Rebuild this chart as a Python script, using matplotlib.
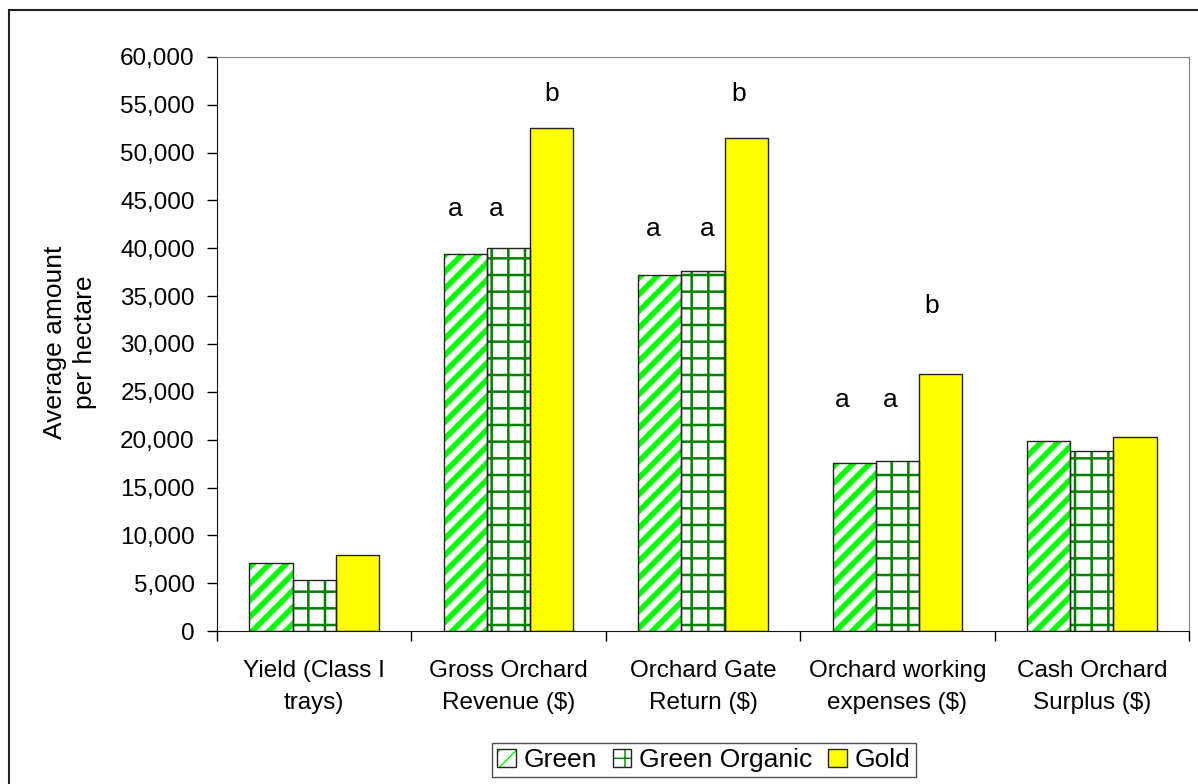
import numpy as np
import matplotlib
matplotlib.use("Agg")
import matplotlib.pyplot as plt
from matplotlib.patches import Rectangle
from matplotlib.ticker import StrMethodFormatter, FixedLocator

plt.rcParams['font.family'] = ['Liberation Sans', 'DejaVu Sans']

categories = ["Yield (Class I\ntrays)", "Gross Orchard\nRevenue ($)", "Orchard Gate\nReturn ($)",
              "Orchard working\nexpenses ($)", "Cash Orchard\nSurplus ($)"]
series_names = ["Green", "Green Organic", "Gold"]
green = [7150, 39450, 37180, 17560, 19830]
green_organic = [5300, 40030, 37630, 17770, 18810]
gold = [7990, 52620, 51570, 26830, 20320]

# significance letters: category, x offset within the group, baseline height
sig_letters = ['a', 'a', 'b', 'a', 'a', 'b', 'a', 'a', 'b']
sig_cat = [1, 1, 1, 2, 2, 2, 3, 3, 3]
sig_dx = [-0.275, -0.065, 0.223, -0.257, 0.02, 0.185, -0.285, -0.038, 0.178]
sig_y = [43350, 43350, 55360, 41260, 41260, 55360, 23410, 23410, 33210]

W, H = 1198, 784
fig = plt.figure(figsize=(W / 100, H / 100), dpi=100)
ax = fig.add_axes([217 / W, 1 - 631 / H, (1189 - 217) / W, (631 - 57) / H])

x = np.arange(len(categories))
bw = 0.222
fills = ['white', 'white', '#FFFF00']
hatches = ['//', '+', None]
hatch_cols = ['#00FF00', '#008000', '#FFFF00']
hatch_lws = [4.0, 1.8, 1.0]
handles = []
for k, vals in enumerate([green, green_organic, gold]):
    pos = x + (k - 1) * bw
    with plt.rc_context({'hatch.linewidth': hatch_lws[k]}):
        b1 = ax.bar(pos, vals, bw, color=fills[k], edgecolor=hatch_cols[k],
                    hatch=hatches[k], linewidth=0, zorder=2)
    for p in b1:
        if hasattr(p, 'set_hatch_linewidth'):
            p.set_hatch_linewidth(hatch_lws[k])
    b2 = ax.bar(pos, vals, bw, fill=False, edgecolor='#222222', linewidth=1.0, zorder=3)
    handles.append((b1[0], b2[0]))

for lab, c, dx, yy in zip(sig_letters, sig_cat, sig_dx, sig_y):
    ax.text(c + dx, yy, lab, ha='center', va='baseline', fontsize=19, color='black')

ax.set_xlim(-0.5, len(categories) - 0.5)
ax.set_ylim(0, 60000)
ax.set_yticks(np.arange(0, 60001, 5000))
ax.yaxis.set_major_formatter(StrMethodFormatter('{x:,.0f}'))
ax.set_xticks(x)
ax.set_xticklabels(categories, fontsize=17.5, linespacing=1.55)
ax.xaxis.set_minor_locator(FixedLocator(np.arange(-0.5, len(categories), 1.0)))
ax.tick_params(axis='x', which='major', length=0, pad=21)
ax.tick_params(axis='x', which='minor', length=7, width=1, direction='out')
ax.tick_params(axis='y', length=7, width=1, direction='out', pad=9, labelsize=17.5)

for s in ['top', 'right']:
    ax.spines[s].set_color('#808080')
for s in ['left', 'bottom']:
    ax.spines[s].set_color('#111111')

ax.set_ylabel("Average amount\nper hectare", fontsize=19, linespacing=1.3, ha='center')
ax.yaxis.set_label_coords((97 - 217) / (1189 - 217), (631 - 342) / (631 - 57))

leg = fig.legend(handles, series_names, loc='center', bbox_to_anchor=(704 / W, 1 - 760 / H),
                 ncol=3, fontsize=19, frameon=True, fancybox=False, edgecolor='#222222',
                 handlelength=0.7, handleheight=0.7, handletextpad=0.3, columnspacing=0.6,
                 borderpad=0.2, borderaxespad=0)
leg.get_frame().set_linewidth(1.0)

# outer chart border (left and top edges visible)
fig.patches.append(Rectangle((9 / W, -0.1), 1.2, 1 - 10 / H + 0.1, transform=fig.transFigure,
                             fill=False, edgecolor='#222222', linewidth=1.5))

fig.savefig("out.png", dpi=100)
